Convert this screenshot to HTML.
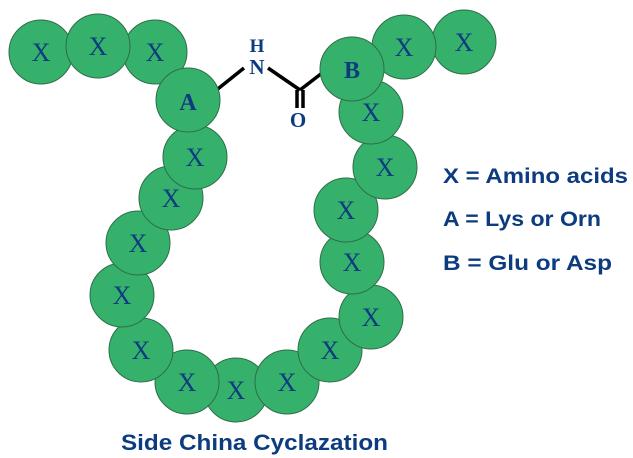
<!DOCTYPE html>
<html><head><meta charset="utf-8"><style>
html,body{margin:0;padding:0;background:#fff;}
svg{display:block}
</style></head><body>
<svg width="633" height="458" viewBox="0 0 633 458" xmlns="http://www.w3.org/2000/svg">
<g stroke="#000" stroke-width="3.5" fill="none">
<line x1="214" y1="92" x2="244" y2="68"/>
<line x1="268" y1="68" x2="300" y2="90"/>
<line x1="300" y1="90" x2="326" y2="70"/>
<line x1="297" y1="90" x2="297" y2="108"/>
<line x1="303" y1="90" x2="303" y2="108"/>
</g>
<g font-family="Liberation Serif, serif" font-weight="bold" fill="#0d3b80" text-anchor="middle">
<text x="257" y="52" font-size="19">H</text>
<text x="257" y="74" font-size="21">N</text>
<text x="298" y="127" font-size="21">O</text>
</g>
<g fill="#36b16c" stroke="#2e6e48" stroke-width="1">
<circle cx="236" cy="390" r="32"/>
<circle cx="187" cy="382" r="32"/>
<circle cx="287" cy="382" r="32"/>
<circle cx="141" cy="350" r="32"/>
<circle cx="330" cy="350" r="32"/>
<circle cx="122" cy="295" r="32"/>
<circle cx="371" cy="317" r="32"/>
<circle cx="352" cy="262" r="32"/>
<circle cx="138" cy="243" r="32"/>
<circle cx="346" cy="210" r="32"/>
<circle cx="171" cy="198" r="32"/>
<circle cx="385" cy="167" r="32"/>
<circle cx="195" cy="157" r="32"/>
<circle cx="371" cy="112" r="32"/>
<circle cx="41" cy="52" r="32"/>
<circle cx="155" cy="52" r="32"/>
<circle cx="98" cy="46" r="32"/>
<circle cx="188" cy="100" r="32"/>
<circle cx="464" cy="42" r="32"/>
<circle cx="404" cy="47" r="32"/>
<circle cx="352" cy="69" r="32"/>
</g>
<g font-family="Liberation Serif, serif" fill="#0d3b80" text-anchor="middle" font-size="26">
<text x="41" y="61">X</text><text x="98" y="55">X</text><text x="155" y="61">X</text>
<text x="188" y="110" font-weight="bold" font-size="24">A</text>
<text x="195" y="166">X</text><text x="171" y="207">X</text><text x="138" y="252">X</text>
<text x="122" y="304">X</text><text x="141" y="359">X</text><text x="187" y="391">X</text>
<text x="236" y="399">X</text><text x="287" y="391">X</text><text x="330" y="359">X</text>
<text x="371" y="326">X</text><text x="352" y="271">X</text><text x="346" y="219">X</text>
<text x="385" y="176">X</text><text x="371" y="121">X</text>
<text x="352" y="78" font-weight="bold" font-size="24">B</text>
<text x="404" y="56">X</text><text x="464" y="51">X</text>
</g>
<g font-family="Liberation Sans, sans-serif" font-weight="bold" fill="#0d3b80" font-size="21">
<text x="443" y="183" textLength="185" lengthAdjust="spacingAndGlyphs">X = Amino acids</text>
<text x="443" y="226" textLength="158" lengthAdjust="spacingAndGlyphs">A = Lys or Orn</text>
<text x="443" y="270" textLength="169" lengthAdjust="spacingAndGlyphs">B = Glu or Asp</text>
<text x="121" y="450" font-size="22" textLength="267" lengthAdjust="spacingAndGlyphs">Side China Cyclazation</text>
</g>
</svg>
</body></html>
